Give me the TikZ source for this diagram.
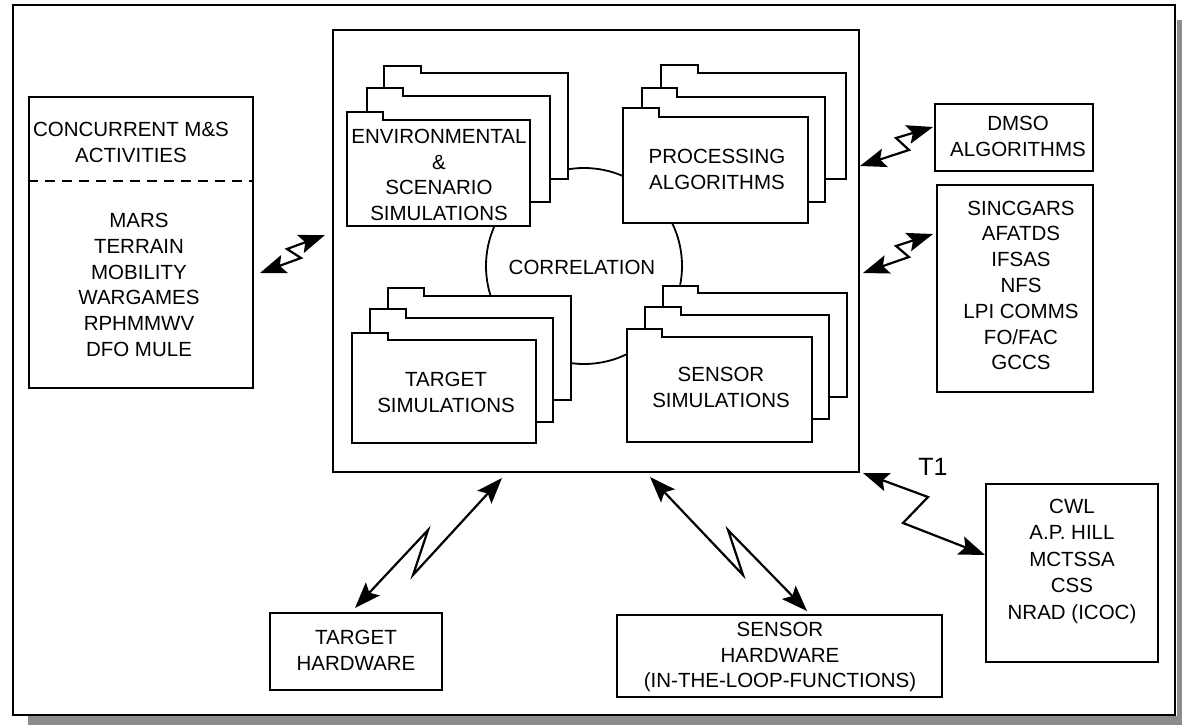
\documentclass[tikz,border=0pt]{standalone}
\usepackage{fontspec}
\setmainfont{Liberation Sans}
\usetikzlibrary{arrows.meta,calc}
\newcommand\fold[6]{\draw[line width=2pt, fill=white, line join=miter] (#1,#6) -- (#1,#2) -- (#3,#2) -- (#3,#4) -- (#5,#4) -- (#5,#6) -- cycle;}
\begin{document}
\begin{tikzpicture}[x=1pt,y=-1pt,
  box/.style={draw, line width=2.2pt, fill=white, inner sep=0pt},
  lbl/.style={font=\fontsize{20.5}{25.8}\selectfont, align=center, inner sep=0pt},
  link/.style={line width=2.2pt, line join=miter, arrows={Stealth[length=26pt,width=19pt,inset=5pt]-Stealth[length=26pt,width=19pt,inset=5pt]}}
]
\useasboundingbox (0,0) rectangle (1182,725);
% shadow and frame
\fill[black!45] (28,716) rectangle (1182,725);
\fill[black!45] (1177,20) rectangle (1182,725);
\draw[line width=2pt] (13,5) rectangle (1175,715);

% central box
\node[box, minimum width=526pt, minimum height=442pt] (cbox) at (596,251) {};
\node[circle, draw, line width=1.8pt, minimum size=196pt, inner sep=0pt] (corr) at (584,266) {};
\node[lbl] (corrlbl) at (582,267) {CORRELATION};

% folders
\fold{384}{66}{421}{73}{568}{179}
\fold{367}{88}{403}{96}{550}{202}
\fold{347}{112}{383}{120}{530}{226}
\node[lbl] (envsim) at (439,175) {ENVIRONMENTAL\\\&\\SCENARIO\\SIMULATIONS};

\fold{661}{65}{698}{73}{846}{179}
\fold{642}{88}{677}{97}{825}{202}
\fold{623}{108}{659}{117}{808}{223}
\node[lbl] (procalg) at (717,169.5) {PROCESSING\\ALGORITHMS};

\fold{388}{288}{424}{296}{571}{400}
\fold{370}{309}{406}{318}{553}{422}
\fold{352}{333}{388}{340}{536}{443}
\node[lbl] (tgtsim) at (446,392.5) {TARGET\\SIMULATIONS};

\fold{663}{286}{698}{293}{847}{397}
\fold{645}{307}{681}{315}{829}{419}
\fold{627}{329}{662}{337}{812}{442}
\node[lbl] (sensim) at (721,387.5) {SENSOR\\SIMULATIONS};

% left box
\node[box, minimum width=224pt, minimum height=291pt] (ms) at (141,242.5) {};
\draw[line width=2pt, dash pattern=on 10pt off 7pt] ($(ms.north west)+(0,85)$) -- ($(ms.north east)+(0,85)$);
\node[lbl] (mshead) at (131,142.5) {CONCURRENT M\&S\\ACTIVITIES};
\node[lbl] (mslist) at (139,285) {MARS\\TERRAIN\\MOBILITY\\WARGAMES\\RPHMMWV\\DFO MULE};

% right boxes
\node[box, minimum width=158pt, minimum height=67pt] (dmso) at (1014,137.5) {};
\node[lbl] (dmsolbl) at (1018,136.5) {DMSO\\ALGORITHMS};
\node[box, minimum width=156pt, minimum height=207pt] (sinc) at (1015,288.5) {};
\node[lbl] (sinclbl) at (1021,285.5) {SINCGARS\\AFATDS\\IFSAS\\NFS\\LPI COMMS\\FO/FAC\\GCCS};
\node[box, minimum width=172pt, minimum height=178pt] (cwl) at (1072,573) {};
\node[lbl, font=\fontsize{20.5}{26.5}\selectfont] (cwllbl) at (1072,561) {CWL\\A.P. HILL\\MCTSSA\\CSS\\NRAD (ICOC)};

% bottom boxes
\node[box, minimum width=172pt, minimum height=77pt] (thw) at (356,651.5) {};
\node[lbl] (thwlbl) at (356,650) {TARGET\\HARDWARE};
\node[box, minimum width=325pt, minimum height=82pt] (shw) at (779.5,656) {};
\node[lbl] (shwlbl) at (780,657) {SENSOR\\HARDWARE\\(IN-THE-LOOP-FUNCTIONS)};

\node[font=\fontsize{25}{30}\selectfont, inner sep=0pt] (t1) at (933,467) {T1};

% connector end points
\coordinate (msE) at (260,273);   \coordinate (cW1) at (325,235);
\coordinate (cE1) at (860,166);   \coordinate (dmsoW) at (933,127);
\coordinate (cE2) at (863,273);   \coordinate (sincW) at (933,234);
\coordinate (cSE) at (863,473);   \coordinate (cwlW) at (985,555);
\coordinate (cS1) at (502,478);   \coordinate (thwN) at (355,608);
\coordinate (cS2) at (650,477);   \coordinate (shwN) at (807,611);

\draw[link] (msE) -- (301,258) -- (287,249) -- (cW1);
\draw[link] (cE1) -- (909,150) -- (896,138) -- (dmsoW);
\draw[link] (cE2) -- (909,257) -- (896,246) -- (sincW);
\draw[link] (cSE) -- (928,497) -- (903,523) -- (cwlW);
\draw[link] (cS1) -- (413,575) -- (428,530) -- (thwN);
\draw[link] (cS2) -- (743,575) -- (728,530) -- (shwN);
\end{tikzpicture}
\end{document}
